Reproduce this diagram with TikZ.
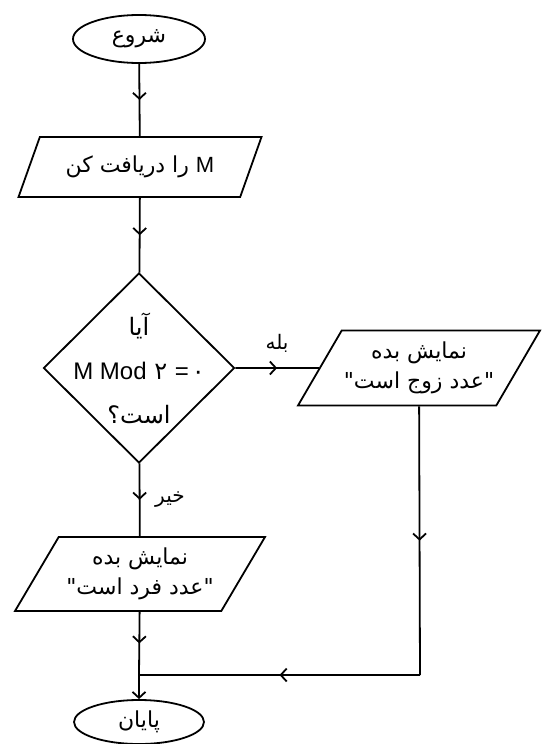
\documentclass[tikz,border=0pt]{standalone}
\usepackage{fontspec}
\usetikzlibrary{shapes.geometric,arrows.meta,decorations.markings}
\newfontfamily\fafont[Script=Arabic]{DejaVu Sans}
\newfontfamily\latfont{Liberation Sans}
\TeXXeTstate=1

\begin{document}
\begin{tikzpicture}[x=0.5pt, y=-0.5pt, line width=0.9pt,
    font=\fafont\fontsize{11}{15}\selectfont,
    terminal/.style={ellipse, draw, minimum width=66pt, minimum height=24pt,
          inner sep=0pt},
    io/.style={trapezium, draw, trapezium left angle=50, trapezium right angle=130,
          trapezium stretches body=true, inner sep=0pt, align=center},
    decision/.style={diamond, draw, minimum width=95.5pt, minimum height=95pt,
          inner sep=0pt},
    midarrow/.style={postaction={decorate}, decoration={markings,
          mark=at position 0.5 with {\arrow{Straight Barb[length=3pt,width=6.5pt]}}}},
    tag/.style={font=\fafont\fontsize{10}{12}\selectfont}]
            \useasboundingbox (0,0) rectangle (542,744);
            % nodes
            \node[terminal] (start) at (139,39) {\beginR شروع\endR};
            \node[io, minimum width=121.5pt, minimum height=30pt,
                trapezium left angle=46, trapezium right angle=134] (read) at (140,167)
                {\beginR{\latfont M} را دریافت کن\endR};
            \node[decision, label={[align=center, font=\fafont\fontsize{12}{22}\selectfont]center:
                \beginR آیا\endR\\\beginL{\latfont M Mod} ۲ {\latfont =}\hspace{1.5pt}۰\endL\\\beginR است؟\endR}] (test) at (139,368) {};
            \node[io, minimum width=121pt, minimum height=37.5pt] (even) at (419,368)
                {\beginR نمایش بده\endR\\\beginR "عدد زوج است"\endR};
            \node[io, minimum width=125pt, minimum height=37pt] (odd) at (140,574)
                {\beginR نمایش بده\endR\\\beginR "عدد فرد است"\endR};
            \node[terminal, minimum width=65pt, minimum height=22pt] (stop) at (139,722)
                {\beginR پایان\endR};
            \coordinate (corner) at (420,675);
            \coordinate (join) at (139,675);
            % connectors
            \draw[midarrow] (start) -- (read);
            \draw[midarrow] (read) -- (test);
            \draw[midarrow] (test) -- (even) node[tag, midway, above=4pt] {\beginR بله\endR};
            \draw[midarrow] (test) -- (odd) node[tag, midway, right=4pt] {\beginR خیر\endR};
            \draw[midarrow] (even) -- (corner);
            \draw[midarrow] (corner) -- (join);
            \draw[midarrow] (odd) -- (join);
            \draw[-{Straight Barb[length=3pt,width=6.5pt]}] (join) -- (stop);
        \end{tikzpicture}
\end{document}
